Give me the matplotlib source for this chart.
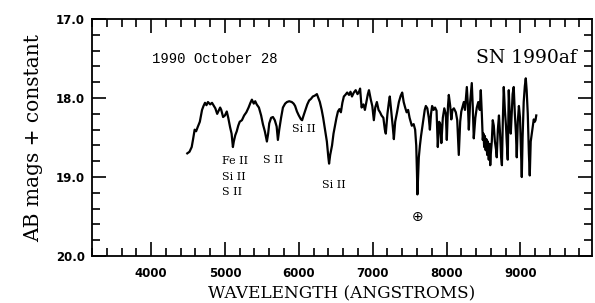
import matplotlib
matplotlib.use("Agg")
import matplotlib.pyplot as plt
from matplotlib.ticker import MultipleLocator, FormatStrFormatter

wavelength = [4490, 4520, 4550, 4567, 4590, 4610, 4630, 4660, 4690, 4710, 4730, 4750, 4770, 4800, 4825, 4850,
              4870, 4895, 4910, 4935, 4950, 4975, 5000, 5025, 5045, 5070, 5090, 5108, 5120, 5140, 5160, 5180,
              5200, 5230, 5260, 5290, 5320, 5345, 5365, 5390, 5410, 5430, 5460, 5490, 5514, 5540, 5568, 5585,
              5600, 5625, 5650, 5675, 5700, 5717, 5735, 5760, 5785, 5815, 5840, 5870, 5905, 5930, 5950, 5975,
              6000, 6030, 6045, 6065, 6090, 6115, 6140, 6165, 6190, 6215, 6245, 6265, 6285, 6310, 6330, 6355,
              6380, 6400, 6410, 6425, 6450, 6470, 6490, 6510, 6530, 6550, 6570, 6590, 6610, 6630, 6655, 6680,
              6700, 6720, 6745, 6770, 6795, 6815, 6830, 6850, 6875, 6895, 6915, 6935, 6950, 6975, 6995, 7016,
              7035, 7057, 7080, 7100, 7120, 7145, 7165, 7178, 7200, 7220, 7232, 7250, 7273, 7287, 7305, 7330,
              7355, 7380, 7400, 7420, 7440, 7460, 7480, 7500, 7530, 7555, 7575, 7590, 7600, 7606, 7615, 7625,
              7640, 7655, 7675, 7690, 7705, 7720, 7740, 7760, 7775, 7790, 7805, 7825, 7845, 7865, 7882, 7900,
              7915, 7930, 7950, 7970, 7990, 8004, 8020, 8031, 8050, 8065, 8080, 8100, 8126, 8145, 8166, 8185,
              8200, 8220, 8234, 8250, 8275, 8290, 8302, 8320, 8342, 8355, 8369, 8390, 8410, 8430, 8450, 8464,
              8478, 8491, 8500, 8510, 8520, 8530, 8540, 8550, 8560, 8572, 8582, 8592, 8600, 8613,
              8626, 8640, 8655, 8670, 8680, 8695,
              8710, 8725, 8740, 8750, 8762, 8775, 8790, 8805, 8815, 8829, 8843, 8855, 8870, 8880, 8895, 8910,
              8925, 8940, 8951, 8965, 8980, 8995, 9005, 9019, 9030, 9045, 9060, 9073, 9085, 9100, 9115, 9127,
              9140, 9155, 9170, 9181, 9195, 9205, 9215]
ab_mag = [18.70, 18.68, 18.62, 18.53, 18.40, 18.42, 18.37, 18.30, 18.15, 18.10, 18.06, 18.09, 18.05, 18.08, 18.06, 18.10,
          18.13, 18.20, 18.17, 18.12, 18.15, 18.24, 18.22, 18.17, 18.25, 18.37, 18.45, 18.62, 18.55, 18.47, 18.42, 18.35,
          18.30, 18.28, 18.22, 18.18, 18.12, 18.06, 18.02, 18.07, 18.04, 18.08, 18.12, 18.22, 18.33, 18.42, 18.55, 18.45,
          18.32, 18.25, 18.24, 18.28, 18.36, 18.53, 18.40, 18.25, 18.12, 18.07, 18.05, 18.04, 18.05, 18.07, 18.10, 18.17,
          18.22, 18.27, 18.28, 18.22, 18.15, 18.08, 18.03, 18.01, 17.98, 17.97, 17.95, 18.00, 18.05, 18.15, 18.25, 18.40,
          18.55, 18.75, 18.83, 18.72, 18.60, 18.45, 18.35, 18.25, 18.17, 18.14, 18.18, 18.06, 17.98, 17.96, 17.93, 17.96,
          17.92, 17.98, 17.93, 17.90, 17.95, 17.92, 17.88, 18.12, 18.08, 18.15, 18.05, 17.95, 17.90, 18.02, 18.10, 18.28,
          18.12, 18.05, 18.15, 18.18, 18.22, 18.25, 18.40, 18.45, 18.20, 18.05, 17.98, 18.15, 18.37, 18.52, 18.30, 18.18,
          18.05, 17.97, 17.93, 18.05, 18.12, 18.18, 18.15, 18.25, 18.35, 18.33, 18.40, 18.60, 18.95, 19.22, 19.00, 18.75,
          18.60, 18.48, 18.35, 18.25, 18.15, 18.10, 18.13, 18.25, 18.40, 18.20, 18.10, 18.15, 18.12, 18.16, 18.62, 18.30,
          18.33, 18.57, 18.25, 18.13, 18.20, 18.53, 18.10, 17.96, 18.10, 18.27, 18.15, 18.13, 18.18, 18.28, 18.72, 18.30,
          18.17, 18.10, 18.05, 18.15, 17.86, 18.10, 18.40, 18.05, 17.81, 18.10, 18.51, 18.25, 18.12, 18.05, 18.15, 17.90,
          18.20, 18.53, 18.45, 18.62, 18.48, 18.66, 18.52, 18.72, 18.55, 18.78, 18.58, 18.85, 18.70, 18.55,
          18.28, 18.35, 18.55, 18.65, 18.75, 18.40,
          18.22, 18.45, 18.75, 18.85, 18.30, 17.86, 18.15, 18.35, 18.55, 18.78, 17.90, 18.20, 18.45, 18.25, 17.95, 17.86,
          18.20, 18.45, 18.75, 18.30, 18.10, 18.25, 18.55, 19.00, 18.50, 18.05, 17.85, 17.75, 17.90, 18.20, 18.70, 18.98,
          18.55, 18.45, 18.35, 18.27, 18.30, 18.28, 18.22]

x_ticks = [4000, 5000, 6000, 7000, 8000, 9000]
y_ticks = [17.0, 18.0, 19.0, 20.0]

line_labels = [("Fe II", 4955, 18.80), ("Si II", 4955, 19.00), ("S II", 4955, 19.19),
               ("S II", 5514, 18.79), ("Si II", 5907, 18.39), ("Si II", 6312, 19.10)]

fig = plt.figure(figsize=(5.95, 3.03), dpi=100)
ax = fig.add_axes([0.1546, 0.155, 0.8404, 0.782])

ax.plot(wavelength, ab_mag, color="black", lw=1.6, solid_joinstyle="round")

ax.set_xlim(3200, 9970)
ax.set_ylim(20.0, 17.0)
ax.set_xticks(x_ticks)
ax.set_yticks(y_ticks)
ax.xaxis.set_minor_locator(MultipleLocator(200))
ax.yaxis.set_minor_locator(MultipleLocator(0.2))
ax.yaxis.set_major_formatter(FormatStrFormatter("%.1f"))
ax.tick_params(which="both", direction="in", top=True, right=True, width=1.2)
ax.tick_params(which="major", length=10)
ax.tick_params(which="minor", length=5.5)
ax.tick_params(axis="x", which="major", pad=8)
ax.tick_params(axis="y", which="major", pad=5)
for lab in ax.get_xticklabels() + ax.get_yticklabels():
    lab.set_fontfamily("DejaVu Sans")
    lab.set_fontweight("bold")
    lab.set_fontsize(8.5)
for s in ax.spines.values():
    s.set_linewidth(1.3)

ax.set_xlabel("WAVELENGTH (ANGSTROMS)", family="DejaVu Serif", fontsize=12.2, labelpad=4)
ax.set_ylabel("AB mags + constant", family="DejaVu Serif", fontsize=14.5, labelpad=9)

ax.text(4013, 17.5, "1990 October 28", family="Liberation Mono", fontsize=10, ha="left", va="center")
ax.text(9763, 17.49, "SN 1990af", family="DejaVu Serif", fontsize=13.5, ha="right", va="center")
for txt, lx, ly in line_labels:
    ax.text(lx, ly, txt, family="DejaVu Serif", fontsize=8, ha="left", va="center")
ax.text(7611, 19.51, "\u2295", family="DejaVu Sans", fontsize=10, ha="center", va="center")

fig.savefig("out.png", dpi=100)
